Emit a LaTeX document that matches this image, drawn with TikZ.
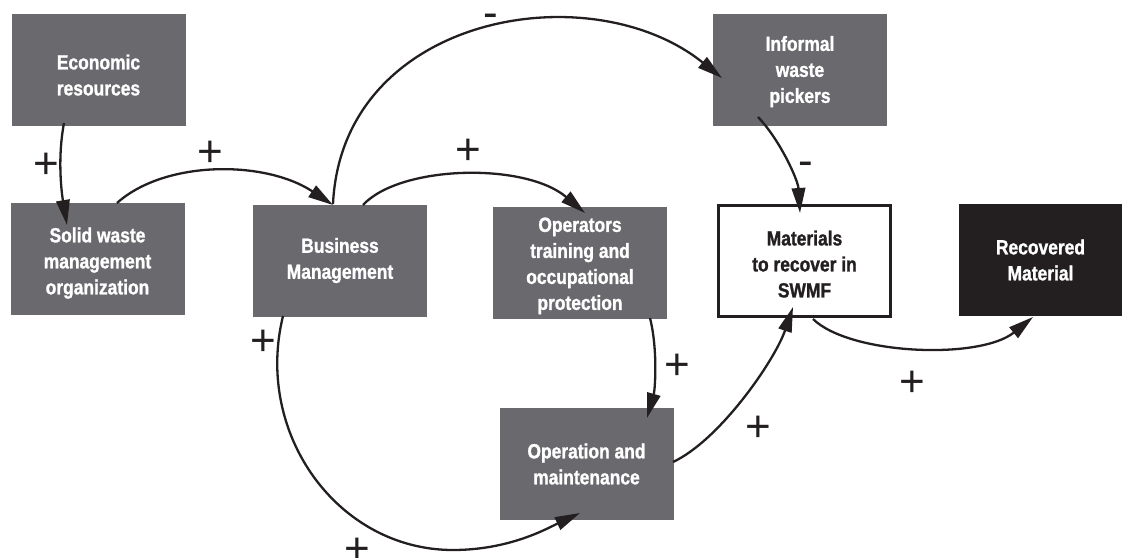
\documentclass[tikz,border=0pt]{standalone}
\usepackage{fontspec}
\setmainfont{Liberation Sans}[FakeStretch=0.85, BoldFeatures={FakeBold=1.2}]
\newfontfamily\signfont{Liberation Sans}
\usetikzlibrary{arrows.meta}
\definecolor{boxgray}{RGB}{105,105,110}
\definecolor{ink}{RGB}{35,31,32}
\newcommand\dn[1]{\rule{0pt}{#1}}
\begin{document}
\begin{tikzpicture}[x=1pt,y=-1pt,
  gbox/.style={rectangle, fill=boxgray, text=white, inner sep=0pt,
    minimum width=174pt, minimum height=112pt, align=center,
    font=\fontsize{20.5}{26}\selectfont\bfseries},
  conn/.style={draw=ink, line width=2.3pt, -{Triangle[length=25pt,width=13.5pt]}},
  sign/.style={inner sep=0pt, text=ink, font=\signfont\fontsize{44}{44}\selectfont},
  minus/.style={sign}]
\useasboundingbox (0,0) rectangle (1122,557);

% boxes
\node[gbox] (econ) at (98.5,70) {\dn{25pt}Economic\\resources};
\node[gbox] (solid) at (97.5,259) {\dn{23pt}Solid waste\\management\\organization};
\node[gbox] (bus) at (340,260.5) {Business\\Management};
\node[gbox] (oper) at (580,262.5) {\dn{21pt}Operators\\training and\\occupational\\protection};
\node[gbox] (inf) at (800,69.5) {\dn{19pt}Informal\\waste\\pickers};
\node[gbox, fill=white, draw=ink, line width=2.5pt, text=ink,
      minimum width=172pt, minimum height=111pt] (mat) at (804.5,261) {\dn{21pt}Materials\\to recover in\\SWMF};
\node[gbox, fill=ink, minimum width=163pt] (rec) at (1040.5,260) {Recovered\\Material};
\node[gbox] (om) at (586.5,464) {Operation and\\maintenance};

% connectors
\draw[conn] ([shift={(-34.5,53)}]econ.center) .. controls (57,160) and (62,195) .. ([shift={(-30.5,-34)}]solid.center);
\draw[conn] ([shift={(19.5,-56)}]solid.center) .. controls (165,160) and (265,160) .. ([shift={(-7,-55.5)}]bus.center);
\draw[conn] ([shift={(-7,-56.5)}]bus.center) .. controls (342,15) and (590,-28) .. ([shift={(-78,8.5)}]inf.center);
\draw[conn] ([shift={(23,-55.5)}]bus.center) .. controls (400,165) and (525,162) .. ([shift={(5,-49.5)}]oper.center);
\draw[conn] ([shift={(-42,47.5)}]inf.center) .. controls (780,140) and (798,180) .. ([shift={(-4.5,-48)}]mat.center);
\draw[conn] ([shift={(8.5,58)}]mat.center) .. controls (850,355) and (980,360) .. ([shift={(-7.5,57)}]rec.center);
\draw[conn] ([shift={(70,55.5)}]oper.center) .. controls (658,350) and (655,390) .. ([shift={(60.5,-46)}]om.center);
\draw[conn] ([shift={(86.5,-2)}]om.center) .. controls (720,440) and (775,360) .. ([shift={(-11.5,46)}]mat.center);
\draw[conn] ([shift={(-57,55.5)}]bus.center) .. controls (254,434) and (338,550) .. (453,550)
   .. controls (510,550) and (548,528) .. ([shift={(-6.5,49)}]om.center);

% polarity signs
\node[sign] (s1) at (46,166) {+};
\node[sign] (s2) at (210,154) {+};
\node[minus] (s3) at (491,21) {-};
\node[sign] (s4) at (468,152) {+};
\node[minus] (s5) at (806,169) {-};
\node[sign] (s6) at (912,384) {+};
\node[sign] (s7) at (677,367) {+};
\node[sign] (s8) at (758,429) {+};
\node[sign] (s9) at (263,343) {+};
\node[sign] (s10) at (357,551) {+};
\end{tikzpicture}
\end{document}
